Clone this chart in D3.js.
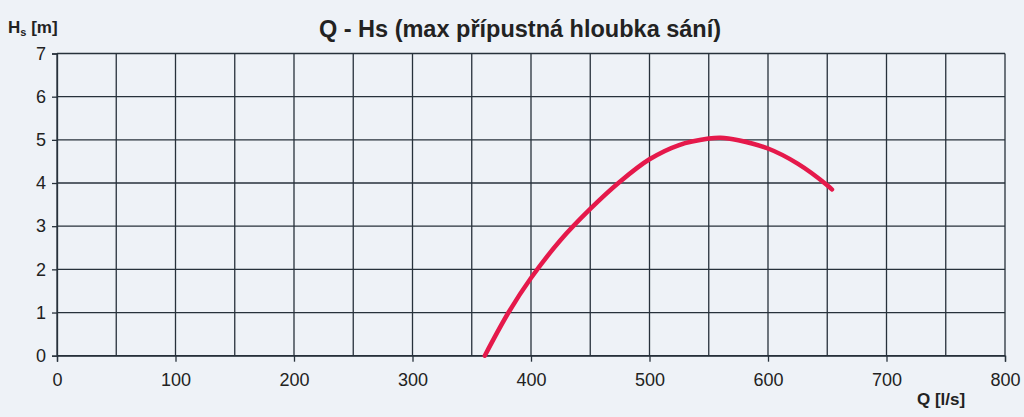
<!DOCTYPE html>
<html>
<head>
<meta charset="utf-8">
<script src="https://cdn.jsdelivr.net/npm/d3@7"></script>
<style>
html,body{margin:0;padding:0;background:#eef2f7;}
svg{display:block;font-family:"Liberation Sans",Arial,sans-serif;}
</style>
</head>
<body>
<div id="chart"></div>
<script>
// Q [l/s] vs Hs [m]
var qVals = [361, 381, 400, 425, 450, 475, 500, 525, 550, 560, 575, 600, 625, 650, 654];
var hVals = [0, 1, 1.8, 2.68, 3.40, 4.03, 4.55, 4.88, 5.03, 5.05, 4.99, 4.80, 4.45, 3.95, 3.85];
var xTicks = [0, 100, 200, 300, 400, 500, 600, 700, 800];
var yTicks = [0, 1, 2, 3, 4, 5, 6, 7];

var W = 1024, H = 417;
var m = {left: 57, right: 1005, top: 53.5, bottom: 355.7};

var svg = d3.select('#chart').append('svg').attr('width', W).attr('height', H);
svg.append('rect').attr('width', W).attr('height', H).attr('fill', '#eef2f7');

var x = d3.scaleLinear().domain([0, 800]).range([m.left, m.right]);
var y = d3.scaleLinear().domain([0, 7]).range([m.bottom, m.top]);

var gridCol = '#27313b';

// vertical grid every 50
svg.append('g').selectAll('line').data(d3.range(0, 801, 50)).join('line')
  .attr('x1', d => x(d)).attr('x2', d => x(d))
  .attr('y1', y(7)).attr('y2', y(0))
  .attr('stroke', gridCol).attr('stroke-width', 1.3);

// horizontal grid
svg.append('g').selectAll('line').data(yTicks).join('line')
  .attr('x1', x(0)).attr('x2', x(800))
  .attr('y1', d => y(d)).attr('y2', d => y(d))
  .attr('stroke', gridCol).attr('stroke-width', 1.3);

// axes
var xAxis = svg.append('g').attr('transform', 'translate(0,' + y(0) + ')')
  .call(d3.axisBottom(x).tickValues(xTicks).tickSize(6).tickPadding(12).tickFormat(d3.format('d')));
var yAxis = svg.append('g').attr('transform', 'translate(' + x(0) + ',0)')
  .call(d3.axisLeft(y).tickValues(yTicks).tickSize(5).tickPadding(6).tickFormat(d3.format('d')));
[xAxis, yAxis].forEach(function (a) {
  a.select('.domain').attr('stroke', gridCol).attr('stroke-width', 1.3);
  a.selectAll('.tick line').attr('stroke', gridCol).attr('stroke-width', 1.3);
  a.selectAll('.tick text').attr('fill', '#222').style('font-size', '18px')
    .style('font-family', '"Liberation Sans",Arial,sans-serif');
});

// curve
var pts = qVals.map((q, i) => [q, hVals[i]]);
svg.append('path').datum(pts)
  .attr('fill', 'none').attr('stroke', '#e5194b').attr('stroke-width', 4.5)
  .attr('stroke-linecap', 'round')
  .attr('d', d3.line().x(d => x(d[0])).y(d => y(d[1])).curve(d3.curveCatmullRom));

// title
svg.append('text').attr('x', 520).attr('y', 37).attr('text-anchor', 'middle')
  .attr('font-weight', 'bold').attr('font-size', 23.5).attr('fill', '#222')
  .text('Q - Hs (max přípustná hloubka sání)');

// axis labels
var yl = svg.append('text').attr('x', 8).attr('y', 33).attr('font-weight', 'bold')
  .attr('font-size', 17).attr('fill', '#222');
yl.append('tspan').text('H');
yl.append('tspan').attr('font-size', 11).attr('dy', 3).text('s');
yl.append('tspan').attr('dy', -3).text(' [m]');

svg.append('text').attr('x', 917).attr('y', 405).attr('font-weight', 'bold')
  .attr('font-size', 17).attr('fill', '#222').text('Q [l/s]');
</script>
</body>
</html>
